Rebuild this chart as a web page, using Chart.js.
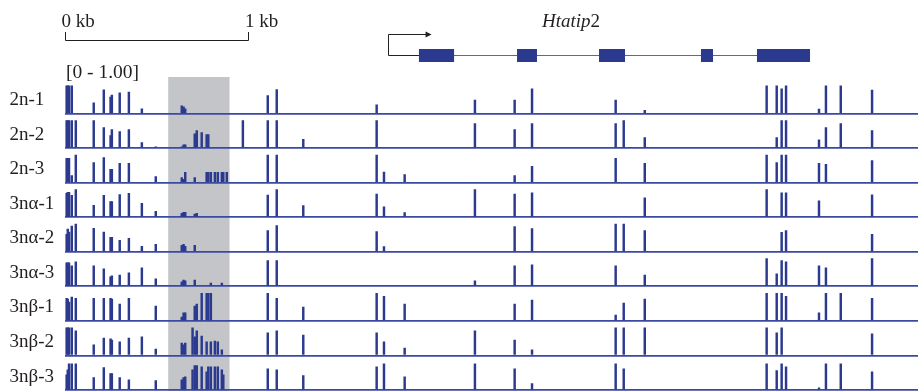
<!DOCTYPE html>
<html>
<head>
<meta charset="utf-8">
<script src="https://cdn.jsdelivr.net/npm/chart.js@4/dist/chart.umd.min.js"></script>
<style>
  html, body { margin: 0; padding: 0; background: #fff; }
</style>
</head>
<body>
<canvas id="trackChart" width="918" height="391"></canvas>
<script>
// CpG site positions (bp from the 0 kb mark)
const sitePositions = [9, 15, 22, 37, 59, 157, 212, 249, 256, 299, 349, 420, 496, 638, 648, 657, 697, 709, 720, 747,
  774, 783, 797, 819, 835, 857, 865, 884, 972, 1108, 1157, 1302, 1703, 1743, 1856, 2240, 2457, 2552, 3009, 3053,
  3168, 3834, 3889, 3916, 3940, 4120, 4158, 4239, 4410];

const trackNames = ['2n-1', '2n-2', '2n-3', '3nα-1', '3nα-2', '3nα-3', '3nβ-1', '3nβ-2', '3nβ-3'];

// methylation level per site, one array per sample (0 = no call)
const track2n1 = [1, 1, 1, 1, 0, 0.39, 0.86, 0.60, 0.67, 0.75, 0.78, 0.17, 0, 0.28, 0.24, 0.17, 0, 0, 0, 0,
  0, 0, 0, 0, 0, 0, 0, 0, 0, 0.65, 0.87, 0, 0.32, 0, 0, 0.49, 0.49, 0.89, 0.49, 0,
  0.12, 1, 1, 0.89, 1, 0.16, 1, 1, 0.85];
const track2n2 = [1, 1, 1, 1, 1, 1, 0.74, 0.45, 0.67, 0.60, 0.67, 0.20, 0.05, 0.05, 0.12, 0.12, 0, 0.52, 0.63, 0.56,
  0.49, 0.49, 0, 0, 0, 0, 0, 0, 1, 1, 1, 0.32, 1, 0, 0, 0.89, 0.67, 0.89, 0.89, 1,
  0.38, 0, 0.38, 1, 1, 0.30, 0.74, 0.89, 0.63];
const track2n3 = [0.88, 0.88, 0.88, 0.26, 1, 0.73, 0.91, 0.48, 0.48, 0.70, 0.70, 0, 0.22, 0.18, 0.12, 0.37, 0, 0.18, 0, 0,
  0.37, 0.37, 0.37, 0.37, 0.37, 0.37, 0.37, 0.37, 0, 1, 1, 0, 1, 0.38, 0.29, 0, 0.26, 0.59, 0.88, 0,
  0.70, 1, 0.73, 1, 1, 0.70, 0.66, 0, 0.80];
const track3na1 = [0.86, 0.9, 0.9, 0.79, 1, 0.43, 0.79, 0.57, 0.57, 0.82, 0.86, 0.5, 0.21, 0.14, 0.18, 0.18, 0, 0.11, 0.14, 0,
  0, 0, 0, 0, 0, 0, 0, 0, 0, 0.8, 1, 0.42, 0.84, 0.38, 0.17, 1, 0.84, 0.88, 0, 0,
  0.70, 1, 0, 0.88, 0.88, 0.59, 0, 0, 0.81];
const track3na2 = [0.63, 0.82, 0.71, 0.93, 1, 0.85, 0.71, 0.52, 0.52, 0.41, 0.49, 0.20, 0.27, 0.23, 0.27, 0.2, 0, 0.23, 0, 0,
  0, 0, 0, 0, 0, 0, 0, 0, 0, 0.77, 0.95, 0, 0.73, 0.19, 0, 0, 0.91, 0.84, 1, 1,
  0.77, 0, 0, 0.70, 0.77, 0, 0, 0, 0.63];
const track3na3 = [0.85, 0.85, 0.85, 0.74, 0.89, 0.74, 0.63, 0.34, 0.38, 0.41, 0.49, 0.67, 0.27, 0.16, 0.23, 0.2, 0, 0.23, 0, 0,
  0, 0, 0.12, 0, 0, 0.12, 0, 0, 0, 0.93, 0.93, 0, 0, 0, 0, 0.2, 0.74, 0.78, 0.74, 0,
  0.41, 1, 0.45, 0.93, 0.89, 0.74, 0.67, 0, 1];
const track3nb1 = [0.82, 0.79, 0.68, 0.86, 0.82, 0.82, 0.82, 0.82, 0.79, 0.61, 0.82, 0, 0.54, 0.14, 0.29, 0.29, 0, 0.54, 0.61, 1,
  1, 1, 1, 0, 0, 0, 0, 0, 0, 1, 0.82, 0.5, 1, 0.89, 0.61, 0, 0.61, 0.75, 0.21, 0.64,
  0.79, 1, 1, 1, 0.89, 0.29, 1, 1, 0.82];
const track3nb2 = [1, 1, 1, 1, 0.89, 0.38, 0.63, 0.60, 0.56, 0.49, 0.63, 0.67, 0.23, 0.45, 0.38, 0.45, 1, 0.67, 0.89, 0.7,
  0.49, 0, 0.49, 0.52, 0.49, 0.2, 0, 0, 0, 0.82, 0.89, 0.74, 0.82, 0.49, 0.27, 0.89, 0.56, 0.2, 1, 1,
  1, 1, 0.82, 1, 0, 0, 0, 0, 0.78];
const track3nb3 = [0.55, 0.73, 0.95, 0.95, 0.95, 0.45, 0.81, 0.59, 0.59, 0.45, 0.37, 0, 0.34, 0.37, 0.45, 0.48, 0.73, 0.88, 0.88, 0.84,
  0.66, 0.84, 0.84, 0.84, 0.84, 0.73, 0.55, 0, 0, 0.77, 0.73, 0.52, 0.84, 0.95, 0.48, 0.95, 0.77, 0.23, 0.95, 0.77,
  0, 0.95, 0.7, 0.95, 0.84, 0.08, 0.95, 0.95, 0.66];

const trackValues = [track2n1, track2n2, track2n3, track3na1, track3na2, track3na3, track3nb1, track3nb2, track3nb3];

// Htatip2 gene model (bp)
const geneName = 'Htatip';
const geneSuffix = '2';
const tssPosition = 1765;
const arrowTip = 2003;
const exonStarts = [1934, 2470, 2918, 3475, 3781];
const exonEnds = [2126, 2579, 3060, 3541, 4071];

const highlightRange = [564, 899];
const viewRange = [0, 4661];
const scaleBarKb = 1;
const dataRangeLabel = '[0 - 1.00]';

const barColor = '#2b3a8f';
const textColor = '#231f20';
const serif = '"Liberation Serif", "Times New Roman", serif';

// grey box, scale bar, gene model and labels
const trackDecor = {
    id: 'trackDecor',
    beforeDraw(chart) {
        const { ctx, scales: { x } } = chart;
        const left = x.getPixelForValue(highlightRange[0]);
        const right = x.getPixelForValue(highlightRange[1]);
        ctx.save();
        ctx.fillStyle = '#c4c5c9';
        ctx.fillRect(left, 77, right - left, chart.height - 77);
        ctx.restore();
    },
    afterDraw(chart) {
        const { ctx, scales: { x } } = chart;
        ctx.save();

        // scale bar
        const x0 = Math.round(x.getPixelForValue(0)) + 0.5;
        const x1 = Math.round(x.getPixelForValue(scaleBarKb * 1000)) + 0.5;
        ctx.strokeStyle = textColor;
        ctx.lineWidth = 1;
        ctx.beginPath();
        ctx.moveTo(x0, 32);
        ctx.lineTo(x0, 40.5);
        ctx.lineTo(x1, 40.5);
        ctx.lineTo(x1, 32);
        ctx.stroke();

        ctx.fillStyle = textColor;
        ctx.font = '19px ' + serif;
        ctx.textBaseline = 'alphabetic';
        ctx.fillText('0 kb', x0 - 4, 26.5);
        ctx.fillText(scaleBarKb + ' kb', x1 - 3.5, 26.5);
        ctx.font = '19.5px ' + serif;
        ctx.fillText(dataRangeLabel, 66, 77.5);

        // intron line + exons
        const geneY = 55.5;
        ctx.strokeStyle = '#5566b3';
        ctx.lineWidth = 1.2;
        ctx.beginPath();
        ctx.moveTo(x.getPixelForValue(exonStarts[0]), geneY);
        ctx.lineTo(x.getPixelForValue(exonEnds[exonEnds.length - 1]), geneY);
        ctx.stroke();
        ctx.fillStyle = barColor;
        exonStarts.forEach((s, i) => {
            const a = x.getPixelForValue(s);
            const b = x.getPixelForValue(exonEnds[i]);
            ctx.fillRect(a, 49, b - a, 13);
        });

        // TSS arrow
        const xt = Math.round(x.getPixelForValue(tssPosition)) + 0.5;
        const xa = x.getPixelForValue(arrowTip);
        ctx.strokeStyle = '#222';
        ctx.lineWidth = 1;
        ctx.beginPath();
        ctx.moveTo(x.getPixelForValue(exonStarts[0]), geneY);
        ctx.lineTo(xt, geneY);
        ctx.lineTo(xt, 34.5);
        ctx.lineTo(xa - 5, 34.5);
        ctx.stroke();
        ctx.fillStyle = '#222';
        ctx.beginPath();
        ctx.moveTo(xa, 34.5);
        ctx.lineTo(xa - 6, 31.5);
        ctx.lineTo(xa - 6, 37.5);
        ctx.closePath();
        ctx.fill();

        // gene name
        ctx.fillStyle = textColor;
        ctx.font = 'italic 19px ' + serif;
        const nameW = ctx.measureText(geneName).width;
        ctx.fillText(geneName, 542, 27);
        ctx.font = '19px ' + serif;
        ctx.fillText(geneSuffix, 542 + nameW, 27);

        // track labels
        ctx.font = '19px ' + serif;
        trackNames.forEach((name, i) => {
            const base = chart.scales['t' + i].getPixelForValue(0);
            ctx.fillText(name, 9.5, base - 8.5);
        });
        ctx.restore();
    }
};

const scales = {
    x: { type: 'linear', min: viewRange[0], max: viewRange[1], offset: false, display: false }
};
trackNames.forEach((name, i) => {
    scales['t' + i] = {
        type: 'linear',
        position: 'left',
        stack: 'tracks',
        stackWeight: 1,
        weight: trackNames.length - i,
        min: 0,
        max: 1.25,
        offset: false,
        border: { display: false },
        ticks: { display: false },
        grid: { drawTicks: false, color: '#3a4aa2', lineWidth: 1.8 },
        afterBuildTicks: (axis) => { axis.ticks = [{ value: 0 }]; }
    };
});

const datasets = trackNames.map((name, i) => ({
    label: name,
    yAxisID: 't' + i,
    xAxisID: 'x',
    data: sitePositions
        .map((pos, j) => ({ x: pos, y: trackValues[i][j] }))
        .filter(p => p.y > 0),
    backgroundColor: barColor,
    borderWidth: 0,
    barThickness: 1.8,
    grouped: false
}));

new Chart(document.getElementById('trackChart').getContext('2d'), {
    type: 'bar',
    data: { datasets },
    options: {
        responsive: false,
        animation: false,
        devicePixelRatio: 1,
        layout: { padding: { top: 79, left: 65, right: 0, bottom: 1 } },
        plugins: { legend: { display: false }, tooltip: { enabled: false } },
        scales
    },
    plugins: [trackDecor]
});
</script>
</body>
</html>
